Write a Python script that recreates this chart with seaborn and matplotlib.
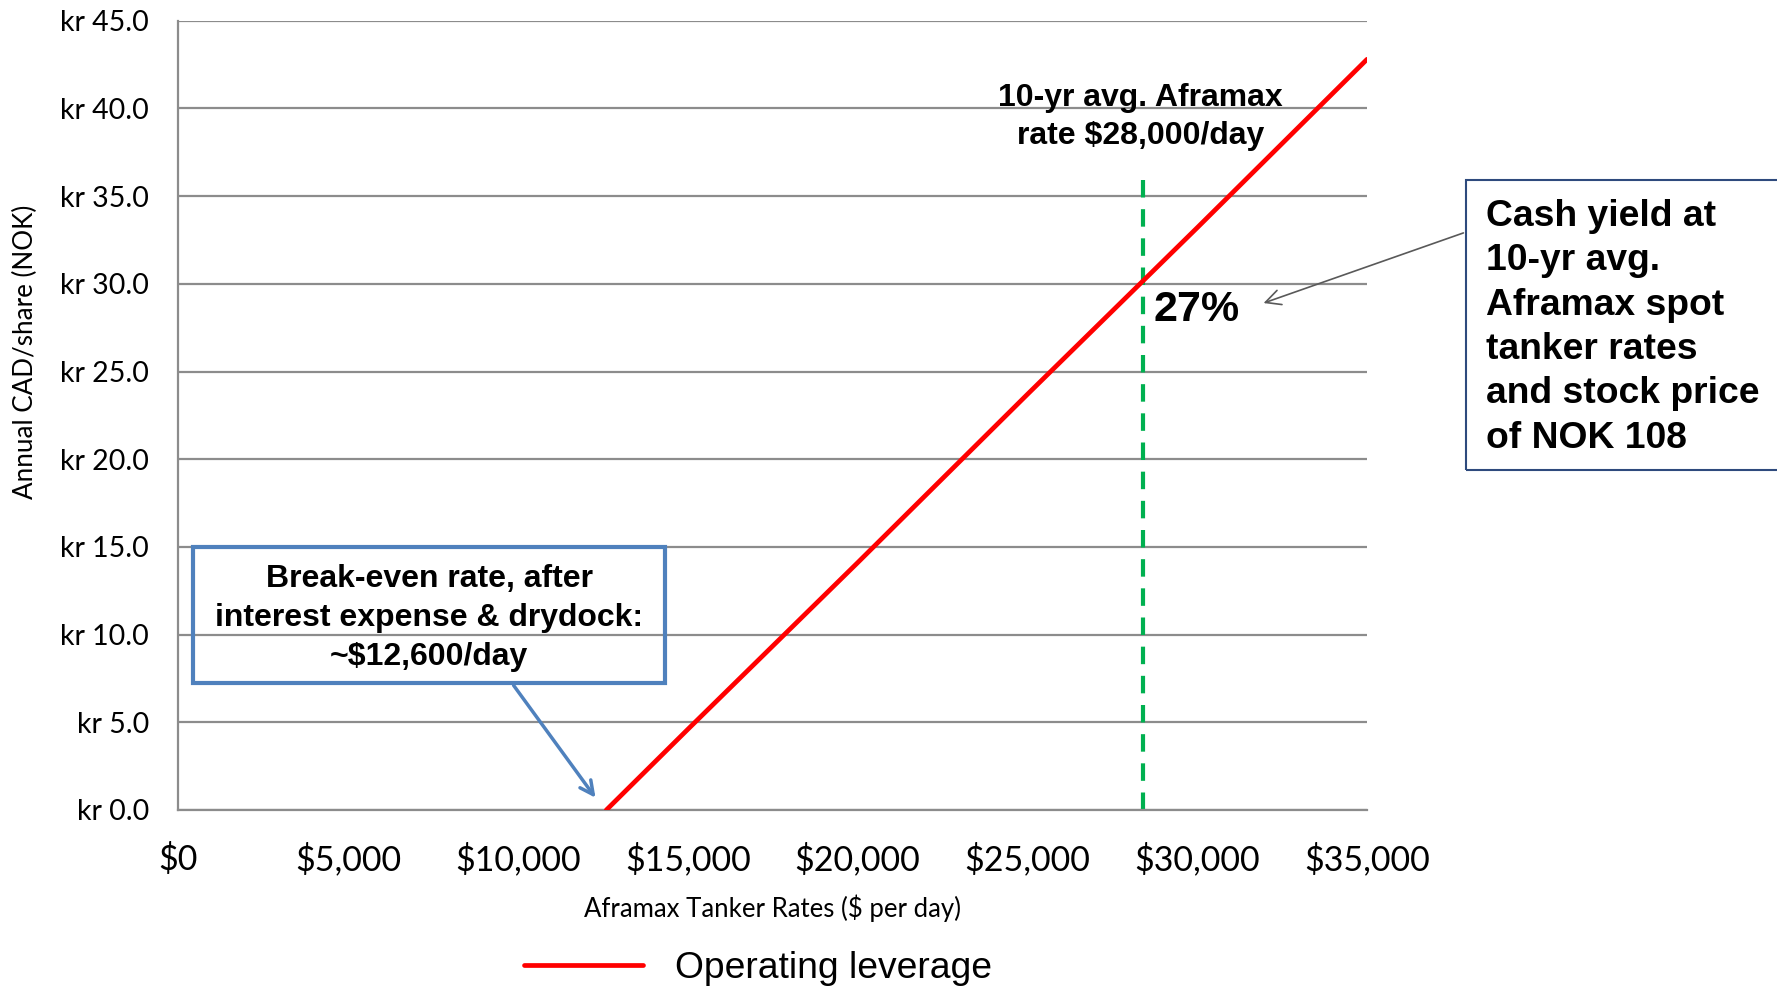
import matplotlib
matplotlib.use("Agg")
import matplotlib.pyplot as plt
import matplotlib.ticker as mticker
from matplotlib.patches import Rectangle
import seaborn as sns
import pandas as pd

# data
rates = [12600, 15000, 20000, 25000, 30000, 35000]
cad_per_share = [0.0, 4.6, 14.1, 23.7, 33.2, 42.8]
avg_rate = 28400
avg_line_top = 36.4
breakeven_rate = 12600
yield_label = "27%"

x_ticks = [0, 5000, 10000, 15000, 20000, 25000, 30000, 35000]
y_ticks = [0, 5, 10, 15, 20, 25, 30, 35, 40, 45]

df = pd.DataFrame({"rate": rates, "cad": cad_per_share})

bold_font = "Liberation Sans"
axis_font = "Lato"

sns.set_theme(style="white")
plt.rcParams["font.family"] = [axis_font, "DejaVu Sans"]
plt.rcParams["text.color"] = "black"
plt.rcParams["axes.labelcolor"] = "black"

fig = plt.figure(figsize=(17.77, 9.86), dpi=100)
ax = fig.add_axes([0.1004, 0.1785, 0.6689, 0.8005])

grid_c = "#8C8C8C"
for yv in y_ticks:
    ax.axhline(yv, color=grid_c, lw=1.6, zorder=0)

sns.lineplot(data=df, x="rate", y="cad", color="#FF0000", lw=3.4,
             label="Operating leverage", ax=ax, zorder=3)
ax.plot([avg_rate, avg_rate], [0, avg_line_top], color="#00B050", lw=3,
        dashes=(4.2, 2.8), zorder=2)

ax.set_xlim(0, 35000)
ax.set_ylim(0, 45)
ax.set_xticks(x_ticks)
ax.set_yticks(y_ticks)
ax.xaxis.set_major_formatter(mticker.FuncFormatter(lambda v, p: f"${v:,.0f}"))
ax.yaxis.set_major_formatter(mticker.FuncFormatter(lambda v, p: f"kr {v:.1f}"))
ax.tick_params(axis="x", labelsize=24.5, length=9, width=1.6, color=grid_c,
               labelcolor="black", pad=14.5)
ax.tick_params(axis="y", labelsize=20.5, length=9, width=1.6, color=grid_c,
               labelcolor="black", pad=12)
for s in ["top", "right"]:
    ax.spines[s].set_visible(False)
for s in ["left", "bottom"]:
    ax.spines[s].set_color(grid_c)
    ax.spines[s].set_linewidth(1.6)

ax.set_xlabel("Aframax Tanker Rates ($ per day)", fontsize=18.5, labelpad=13)
ax.set_ylabel("Annual CAD/share (NOK)", fontsize=18.7)
ax.yaxis.set_label_coords(-0.118, 0.58)

# legend
ax.legend(loc="center", bbox_to_anchor=(0.4267, 0.018), bbox_transform=fig.transFigure,
          frameon=False, handlelength=3.2, handletextpad=0.85,
          prop={"family": "Liberation Sans", "size": 26.8})

# top label for average line
ax.text(avg_rate - 80, 39.5, "10-yr avg. Aframax\nrate $28,000/day", ha="center",
        va="center", fontsize=23, fontweight="bold", family=bold_font, linespacing=1.33)

ax.text(avg_rate + 300, 28.5, yield_label, ha="left", va="center", fontsize=31,
        fontweight="bold", family=bold_font)

# break-even box
ax.add_patch(Rectangle((430, 7.23), 13900, 7.77, fill=False, ec="#4F81BD", lw=3,
                       zorder=4))
ax.text(7380, 10.95, "Break-even rate, after\ninterest expense & drydock:\n~$12,600/day",
        ha="center", va="center", fontsize=23, fontweight="bold", family=bold_font,
        linespacing=1.38, zorder=5)
ax.annotate("", xy=(breakeven_rate - 270, 0.57), xytext=(9823, 7.23),
            arrowprops=dict(arrowstyle="->,head_length=0.8,head_width=0.4",
                            color="#4F81BD", lw=2.5), zorder=4)

# cash yield box (figure coords)
fig.patches.append(Rectangle((0.825, 0.5233), 0.2, 0.2941, fill=False,
                             ec="#2E4A7D", lw=1.5, transform=fig.transFigure,
                             figure=fig))
fig.text(0.836, 0.668, "Cash yield at\n10-yr avg.\nAframax spot\ntanker rates\nand stock price\nof NOK 108",
         ha="left", va="center", fontsize=26.8, fontweight="bold", family=bold_font,
         linespacing=1.345)
ax.annotate("", xy=(0.7096, 0.6917), xytext=(0.825, 0.7647),
            xycoords="figure fraction", textcoords="figure fraction",
            arrowprops=dict(arrowstyle="->,head_length=0.9,head_width=0.45",
                            color="#595959", lw=1.2))

fig.savefig("out.png", dpi=100)
